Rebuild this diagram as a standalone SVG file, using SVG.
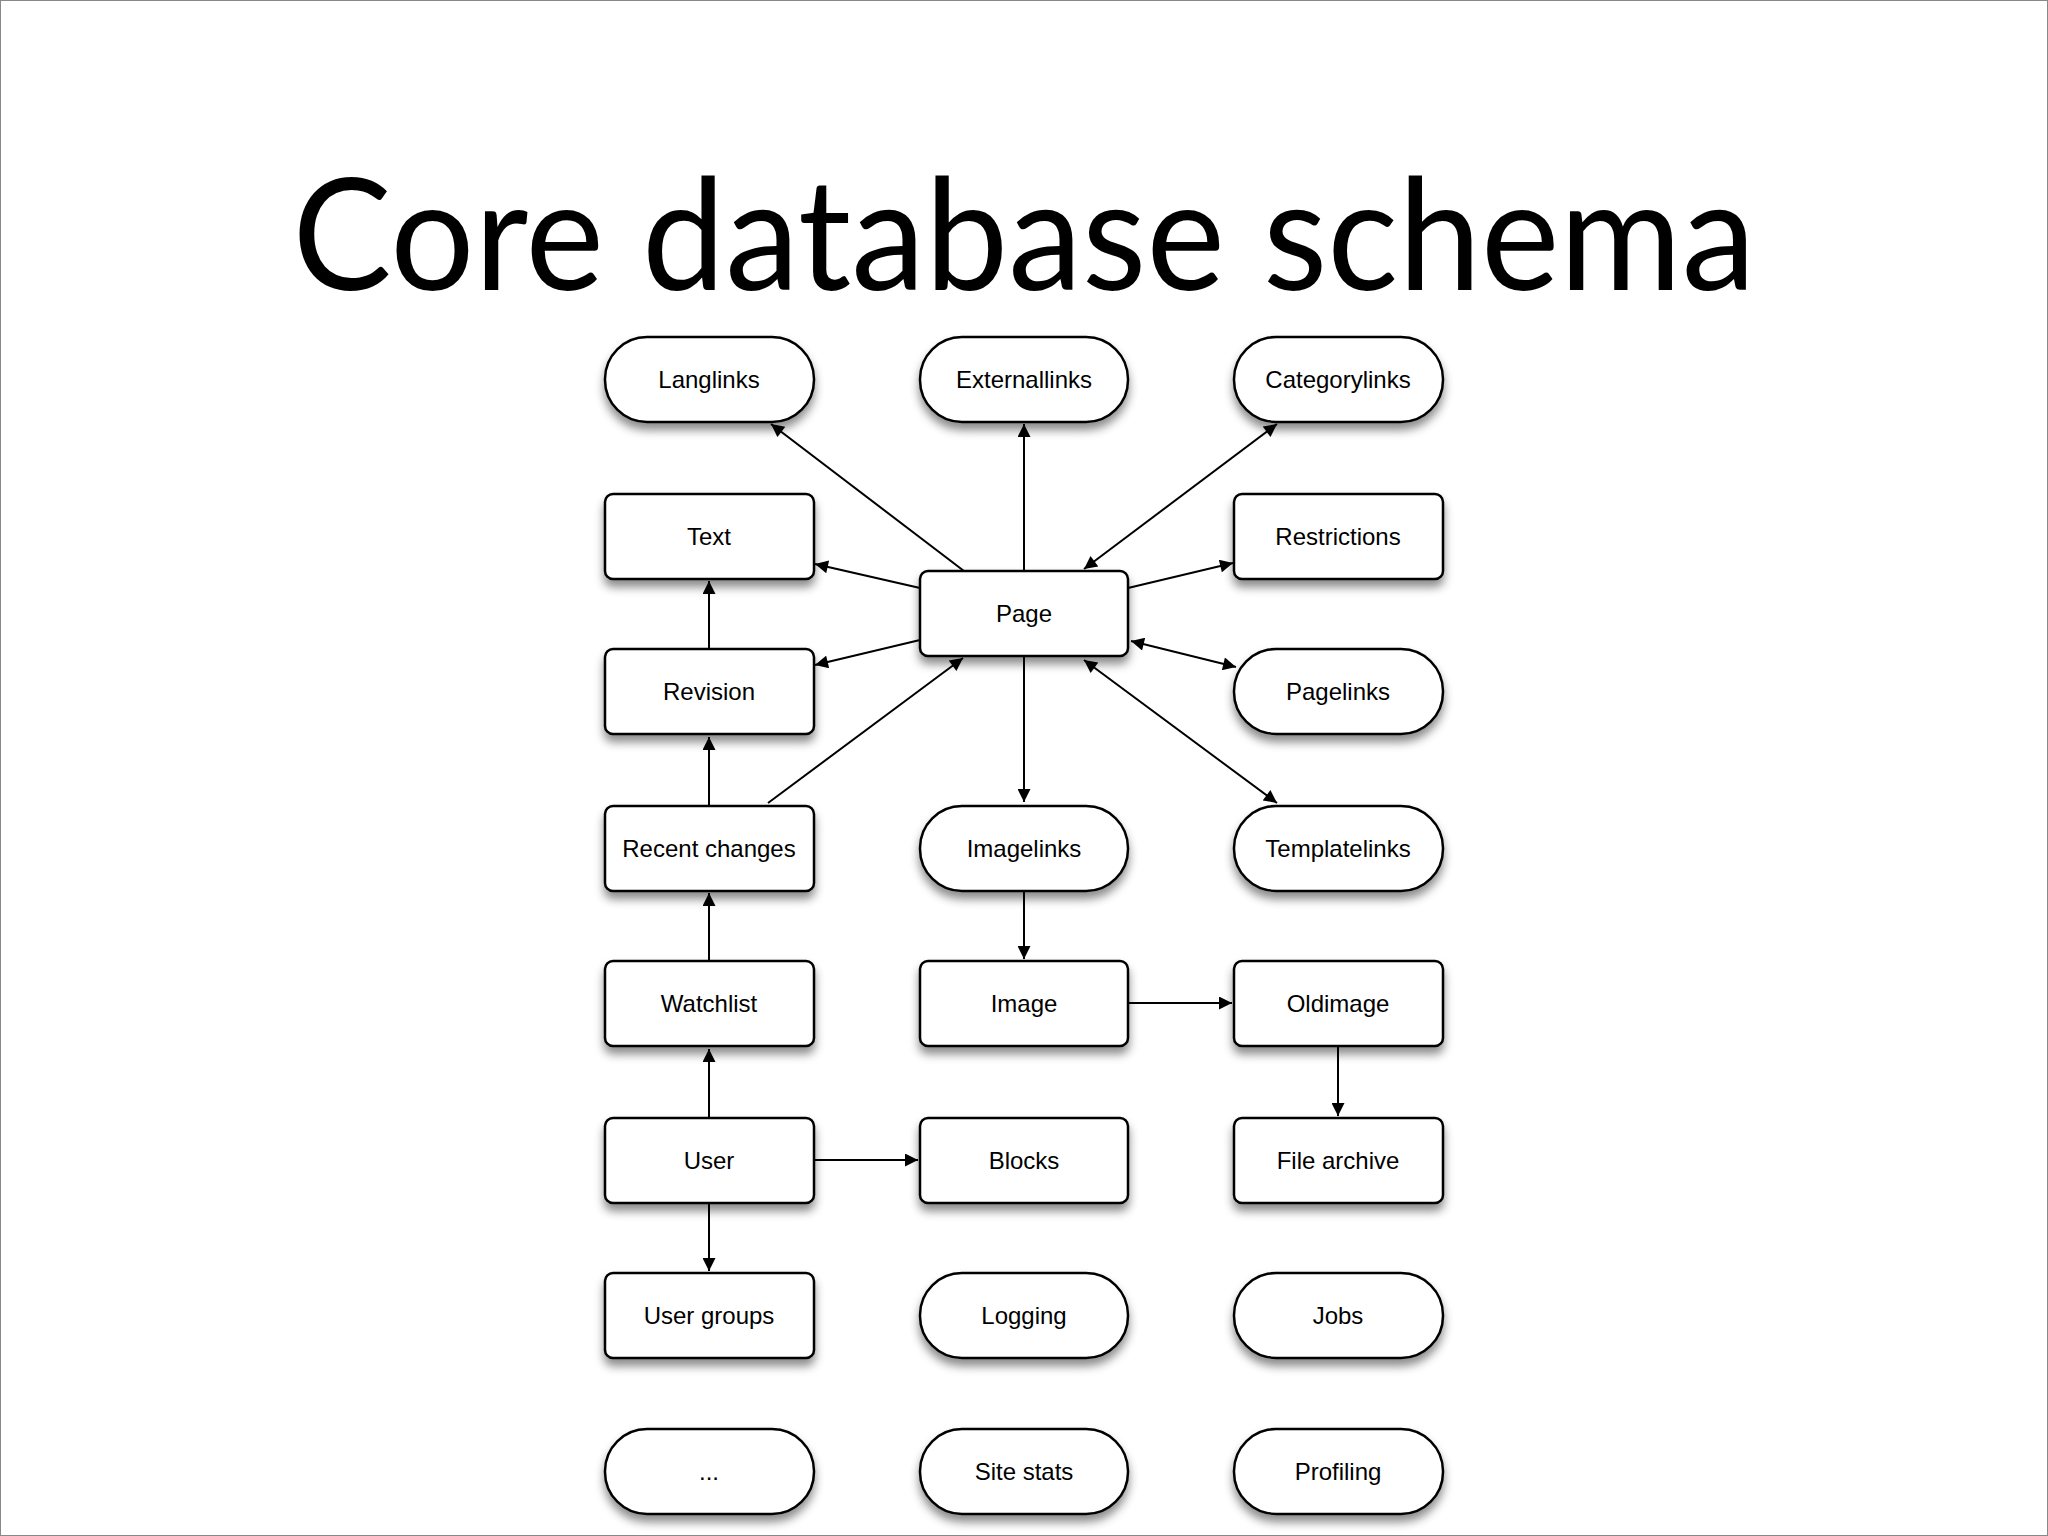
<svg xmlns="http://www.w3.org/2000/svg" width="2048" height="1536" viewBox="0 0 2048 1536">
<defs>
<filter id="sh" x="-20%" y="-20%" width="140%" height="160%"><feDropShadow dx="0" dy="7" stdDeviation="5" flood-color="#000" flood-opacity="0.45"/></filter>
<marker id="a" viewBox="0 0 10 10" refX="10" refY="5" markerWidth="15" markerHeight="13" markerUnits="userSpaceOnUse" orient="auto-start-reverse"><path d="M0,0 L10,5 L0,10 z" fill="#000"/></marker>
<style>
.n{fill:#fff;stroke:#000;stroke-width:2.5;filter:url(#sh)}
.t{font-family:"Liberation Sans",Arial,sans-serif;font-size:24px;text-anchor:middle;dominant-baseline:central;fill:#000}
.c line{stroke:#000;stroke-width:2;marker-end:url(#a)}
.c line.b{marker-start:url(#a)}
</style>
</defs>
<rect x="0" y="0" width="2048" height="1536" fill="#fff" stroke="#888" stroke-width="2"/>
<text x="1024" y="290" font-family="'Gill Sans','Lato','Open Sans',sans-serif" font-size="155" text-anchor="middle" textLength="1463" lengthAdjust="spacingAndGlyphs">Core database schema</text>
<g id="langlinks"><rect class="n" x="605" y="337" width="209" height="85" rx="42"/><text class="t" x="709" y="379">Langlinks</text></g>
<g id="externallinks"><rect class="n" x="920" y="337" width="208" height="85" rx="42"/><text class="t" x="1024" y="379">Externallinks</text></g>
<g id="categorylinks"><rect class="n" x="1234" y="337" width="209" height="85" rx="42"/><text class="t" x="1338" y="379">Categorylinks</text></g>
<g id="text"><rect class="n" x="605" y="494" width="209" height="85" rx="8"/><text class="t" x="709" y="536">Text</text></g>
<g id="restrictions"><rect class="n" x="1234" y="494" width="209" height="85" rx="8"/><text class="t" x="1338" y="536">Restrictions</text></g>
<g id="page"><rect class="n" x="920" y="571" width="208" height="85" rx="8"/><text class="t" x="1024" y="613">Page</text></g>
<g id="revision"><rect class="n" x="605" y="649" width="209" height="85" rx="8"/><text class="t" x="709" y="691">Revision</text></g>
<g id="pagelinks"><rect class="n" x="1234" y="649" width="209" height="85" rx="42"/><text class="t" x="1338" y="691">Pagelinks</text></g>
<g id="recentchanges"><rect class="n" x="605" y="806" width="209" height="85" rx="8"/><text class="t" x="709" y="848">Recent changes</text></g>
<g id="imagelinks"><rect class="n" x="920" y="806" width="208" height="85" rx="42"/><text class="t" x="1024" y="848">Imagelinks</text></g>
<g id="templatelinks"><rect class="n" x="1234" y="806" width="209" height="85" rx="42"/><text class="t" x="1338" y="848">Templatelinks</text></g>
<g id="watchlist"><rect class="n" x="605" y="961" width="209" height="85" rx="8"/><text class="t" x="709" y="1003">Watchlist</text></g>
<g id="image"><rect class="n" x="920" y="961" width="208" height="85" rx="8"/><text class="t" x="1024" y="1003">Image</text></g>
<g id="oldimage"><rect class="n" x="1234" y="961" width="209" height="85" rx="8"/><text class="t" x="1338" y="1003">Oldimage</text></g>
<g id="user"><rect class="n" x="605" y="1118" width="209" height="85" rx="8"/><text class="t" x="709" y="1160">User</text></g>
<g id="blocks"><rect class="n" x="920" y="1118" width="208" height="85" rx="8"/><text class="t" x="1024" y="1160">Blocks</text></g>
<g id="filearchive"><rect class="n" x="1234" y="1118" width="209" height="85" rx="8"/><text class="t" x="1338" y="1160">File archive</text></g>
<g id="usergroups"><rect class="n" x="605" y="1273" width="209" height="85" rx="8"/><text class="t" x="709" y="1315">User groups</text></g>
<g id="logging"><rect class="n" x="920" y="1273" width="208" height="85" rx="42"/><text class="t" x="1024" y="1315">Logging</text></g>
<g id="jobs"><rect class="n" x="1234" y="1273" width="209" height="85" rx="42"/><text class="t" x="1338" y="1315">Jobs</text></g>
<g id="more"><rect class="n" x="605" y="1429" width="209" height="85" rx="42"/><text class="t" x="709" y="1471">...</text></g>
<g id="sitestats"><rect class="n" x="920" y="1429" width="208" height="85" rx="42"/><text class="t" x="1024" y="1471">Site stats</text></g>
<g id="profiling"><rect class="n" x="1234" y="1429" width="209" height="85" rx="42"/><text class="t" x="1338" y="1471">Profiling</text></g>
<g class="c" id="connectors">
<line x1="964" y1="571" x2="771" y2="424"/>
<line x1="1024" y1="571" x2="1024" y2="424"/>
<line class="b" x1="1084" y1="569" x2="1277" y2="424"/>
<line x1="920" y1="588" x2="815" y2="564"/>
<line x1="920" y1="640" x2="815" y2="665"/>
<line x1="768" y1="803" x2="963" y2="658"/>
<line x1="1128" y1="588" x2="1233" y2="563"/>
<line class="b" x1="1131" y1="641" x2="1236" y2="667"/>
<line class="b" x1="1084" y1="660" x2="1277" y2="803"/>
<line x1="1024" y1="657" x2="1024" y2="802"/>
<line x1="709" y1="649" x2="709" y2="581"/>
<line x1="709" y1="806" x2="709" y2="737"/>
<line x1="709" y1="961" x2="709" y2="893"/>
<line x1="709" y1="1118" x2="709" y2="1049"/>
<line x1="709" y1="1203" x2="709" y2="1271"/>
<line x1="814" y1="1160" x2="918" y2="1160"/>
<line x1="1024" y1="892" x2="1024" y2="959"/>
<line x1="1128" y1="1003" x2="1232" y2="1003"/>
<line x1="1338" y1="1047" x2="1338" y2="1116"/>
</g>
</svg>
